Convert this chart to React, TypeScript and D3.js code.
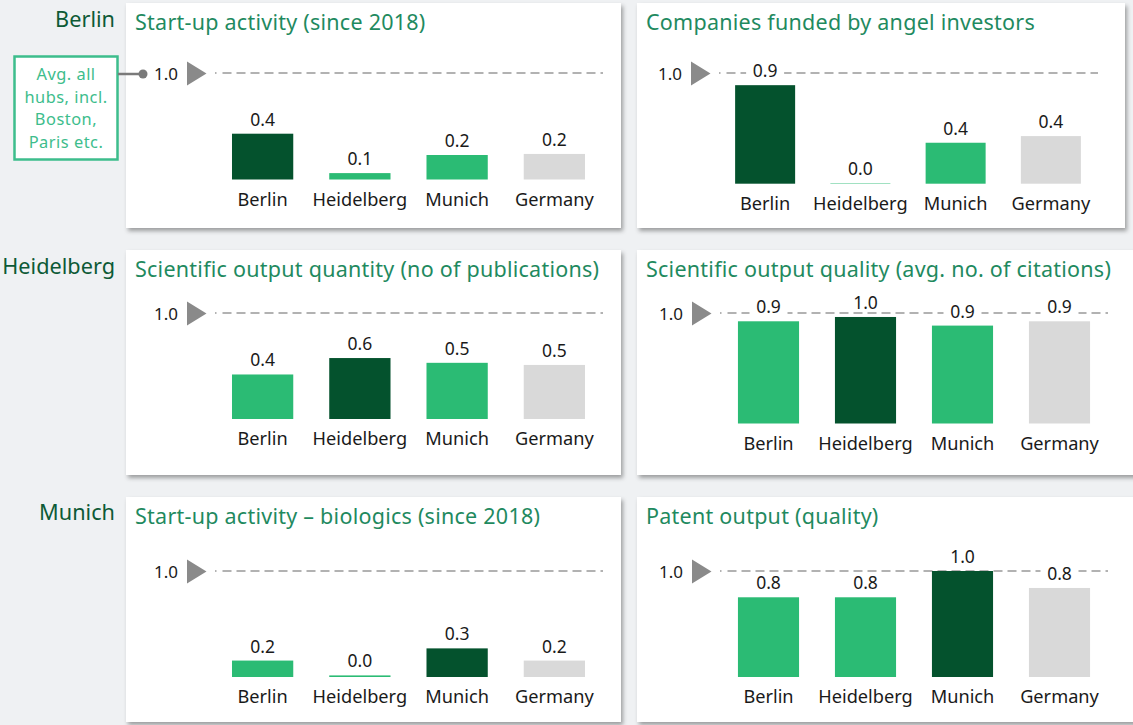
import React from "react";
import * as d3 from "d3";

// ---------- Data ----------
const categories = ["Berlin", "Heidelberg", "Munich", "Germany"];
const rowLabels = ["Berlin", "Heidelberg", "Munich"];
const panelTitles = [
  "Start-up activity (since 2018)",
  "Companies funded by angel investors",
  "Scientific output quantity (no of publications)",
  "Scientific output quality (avg. no. of citations)",
  "Start-up activity – biologics (since 2018)",
  "Patent output (quality)",
];
const startupValues = [0.43, 0.06, 0.23, 0.24];
const angelValues = [0.89, 0.004, 0.37, 0.43];
const sciQuantityValues = [0.42, 0.575, 0.53, 0.51];
const sciQualityValues = [0.925, 0.964, 0.886, 0.925];
const biologicsValues = [0.155, 0.015, 0.27, 0.155];
const patentValues = [0.752, 0.752, 1.0, 0.84];
const panelValues = [startupValues, angelValues, sciQuantityValues, sciQualityValues, biologicsValues, patentValues];
const highlightCity = ["Berlin", "Berlin", "Heidelberg", "Heidelberg", "Munich", "Munich"];
const referenceValue = 1.0;
const referenceLabel = "1.0";
const annotationLines = ["Avg. all", "hubs, incl.", "Boston,", "Paris etc."];

// ---------- Styles ----------
const FONT = "'Noto Sans', 'Open Sans', sans-serif";
const DARK = "#04522d";
const LIGHT = "#2bbb74";
const GRAY = "#d9d9d9";
const TITLE = "#1f8a5f";
const ROWLABEL = "#0d5a36";
const MINT = "#3dbd8c";

// panel geometry (layout)
const panels = [
  { x: 126, y: 3, w: 495, h: 225, lineY: 73, base: 179.5, band: [214, 603], dash: [215, 603], labelRight: 178, triLeft: 187, titleX: 135 },
  { x: 637, y: 3, w: 488, h: 225, lineY: 73, base: 183.7, band: [717.5, 1098.5], dash: [719, 1098], labelRight: 682, triLeft: 691, titleX: 646 },
  { x: 126, y: 250, w: 495, h: 225, lineY: 313, base: 419, band: [214, 603], dash: [215, 603], labelRight: 178, triLeft: 187, titleX: 135 },
  { x: 637, y: 250, w: 500, h: 225, lineY: 313, base: 423.5, band: [720, 1108], dash: [720, 1108], labelRight: 683, triLeft: 692, titleX: 646 },
  { x: 126, y: 497, w: 495, h: 225, lineY: 571, base: 677, band: [214, 603], dash: [215, 603], labelRight: 178, triLeft: 187, titleX: 135 },
  { x: 637, y: 497, w: 500, h: 225, lineY: 571, base: 677, band: [720, 1108], dash: [720, 1108], labelRight: 683, triLeft: 692, titleX: 646 },
];

function colorFor(cat: string, hi: string) {
  if (cat === "Germany") return GRAY;
  return cat === hi ? DARK : LIGHT;
}

const DASH = "1.5 6 " + Array(40).fill("9 5").join(" ");

function Panel({ idx }: { idx: number }) {
  const p = panels[idx];
  const values = panelValues[idx];
  const x = d3.scaleBand<string>().domain(categories).range(p.band as [number, number]).paddingInner(0.37).paddingOuter(0.185);
  const y = d3.scaleLinear().domain([0, referenceValue]).range([p.base, p.lineY]);
  const fmt = (v: number) => v.toFixed(1);
  const lineY = y(referenceValue);
  return (
    <g>
      <rect x={p.x} y={p.y} width={p.w} height={p.h} fill="#fff" filter="url(#shadow)" />
      <text x={p.titleX} y={p.y + 27} fill={TITLE} fontSize={21.5} letterSpacing={0.25} fontFamily={FONT}>{panelTitles[idx]}</text>
      {/* reference */}
      <text x={p.labelRight} y={lineY + 7} textAnchor="end" fontSize={17} fill="#1a1a1a" fontFamily={FONT}>{referenceLabel}</text>
      <path d={`M${p.triLeft},${lineY - 11.5} L${p.triLeft + 19.5},${lineY + 0.5} L${p.triLeft},${lineY + 12.5} Z`} fill="#8a8a8a" />
      <line x1={p.dash[0]} x2={p.dash[1]} y1={lineY} y2={lineY} stroke="#999" strokeWidth={1.5} strokeDasharray={DASH} />
      {/* bars */}
      {categories.map((c, i) => {
        const v = values[i];
        const bx = x(c)!;
        const top = y(v);
        return (
          <rect key={c} x={bx} y={top} width={x.bandwidth()} height={p.base - top} fill={colorFor(c, highlightCity[idx])} />
        );
      })}
      {categories.map((c, i) => {
        const v = values[i];
        const cx = x(c)! + x.bandwidth() / 2;
        const top = y(v);
        const label = fmt(v);
        const tw = label.length * 10;
        return (
          <g key={c + "l"}>
            <rect x={cx - tw / 2 - 4} y={top - 25} width={tw + 8} height={20} fill="#fff" />
            <text x={cx} y={top - 8} textAnchor="middle" fontSize={17.5} fill="#1a1a1a" fontFamily={FONT}>{label}</text>
            <text x={cx} y={p.base + 26} textAnchor="middle" fontSize={18.2} fill="#1a1a1a" fontFamily={FONT}>{c}</text>
          </g>
        );
      })}
    </g>
  );
}

export default function App() {
  const rowTitleY = [27, 274, 520];
  return (
    <svg width={1133} height={725} style={{ position: "fixed", left: 0, top: 0 }} fontFamily={FONT}>
      <defs>
        <filter id="shadow" x="-5%" y="-5%" width="115%" height="115%">
          <feDropShadow dx={2} dy={3} stdDeviation={2} floodColor="#000" floodOpacity={0.35} />
        </filter>
      </defs>
      <rect x={0} y={0} width={1133} height={725} fill="#eff1f3" />
      {rowLabels.map((r, i) => (
        <text key={r} x={115} y={rowTitleY[i]} textAnchor="end" fontSize={21.7} fill={ROWLABEL} fontFamily={FONT}>{r}</text>
      ))}
      {panels.map((_, i) => <Panel key={i} idx={i} />)}
      {/* annotation */}
      <rect x={14.5} y={56.5} width={103} height={103} fill="#fff" stroke={MINT} strokeWidth={2.5} />
      {annotationLines.map((t, i) => (
        <text key={t} x={66} y={80 + i * 22.5} textAnchor="middle" fontSize={16.4} letterSpacing={0.5} fill={MINT} fontFamily={FONT}>{t}</text>
      ))}
      <line x1={118} x2={143} y1={74} y2={74} stroke="#7a7a7a" strokeWidth={2.5} />
      <circle cx={143} cy={74} r={4.5} fill="#7a7a7a" />
    </svg>
  );
}
